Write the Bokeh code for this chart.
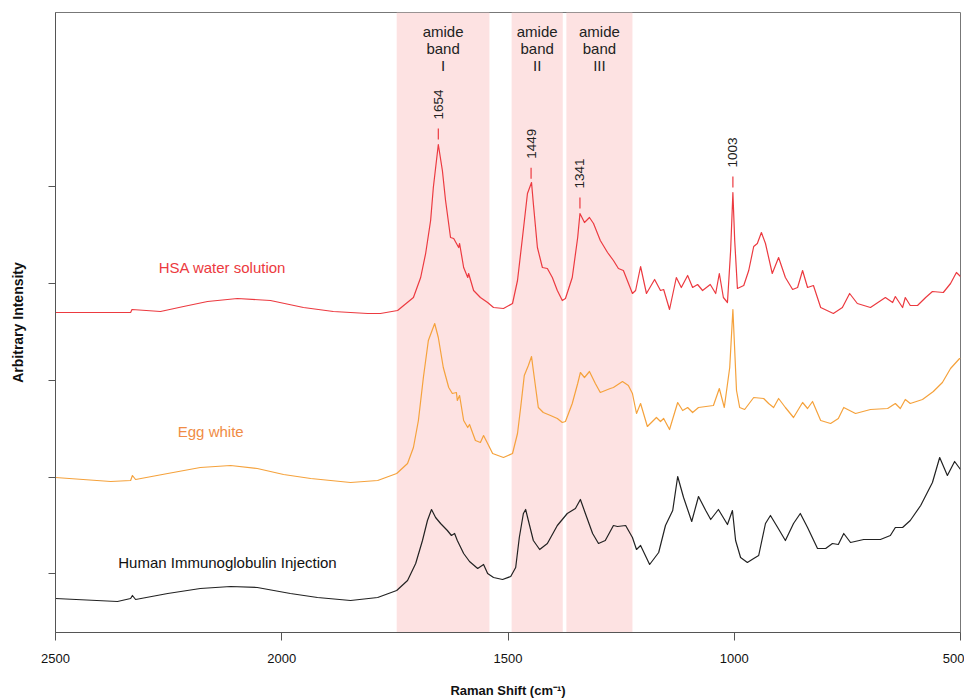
import numpy as np
from bokeh.plotting import figure
from bokeh.models import Range1d, FixedTicker, BoxAnnotation, CustomLabelingPolicy
from bokeh.core.properties import value
from bokeh.embed import file_html
from bokeh.resources import INLINE

# ---------------- data ----------------
hsa_wn = [2500, 2401, 2334, 2331, 2268, 2217, 2164, 2098, 2025, 1952, 1886, 1810, 1782, 1744,
          1709, 1693, 1682, 1671, 1665, 1654, 1645, 1638, 1627, 1620, 1609, 1607, 1598, 1589,
          1587, 1576, 1561, 1545, 1532, 1510, 1490, 1479, 1468, 1457, 1448, 1444, 1435, 1424,
          1413, 1402, 1391, 1380, 1373, 1358, 1346, 1341, 1331, 1320, 1311, 1296, 1280, 1267,
          1256, 1245, 1225, 1218, 1207, 1194, 1176, 1163, 1156, 1143, 1128, 1117, 1103, 1092,
          1081, 1070, 1053, 1041, 1033, 1024, 1015, 1008, 1003, 999, 993, 979, 968, 957, 949,
          940, 931, 916, 902, 887, 871, 860, 849, 838, 825, 809, 781, 761, 745, 728, 699, 666,
          650, 644, 628, 622, 611, 595, 577, 562, 538, 522, 509, 500]
hsa_int = [320, 320, 320, 323, 321, 326, 331, 334, 332, 325, 321, 319, 319, 322,
           335, 355, 379, 412, 445, 488, 462, 432, 395, 394, 385, 389, 365, 355,
           359, 342, 335, 330, 325, 324, 329, 352, 395, 439, 450, 429, 385, 365,
           364, 355, 342, 332, 334, 355, 395, 419, 410, 415, 409, 392, 380, 372,
           364, 362, 339, 342, 366, 339, 353, 342, 343, 323, 355, 345, 357, 345,
           348, 342, 348, 339, 359, 335, 330, 382, 440, 392, 344, 347, 362, 386, 389,
           400, 389, 359, 375, 355, 343, 345, 362, 345, 347, 325, 319, 325, 339, 329, 325, 335,
           330, 336, 325, 335, 327, 327, 335, 341, 340, 349, 360, 356]

egg_wn = [2500, 2378, 2334, 2330, 2323, 2252, 2180, 2113, 2054, 1996, 1936, 1848, 1788, 1746,
          1722, 1709, 1698, 1687, 1676, 1662, 1654, 1643, 1631, 1623, 1614, 1612, 1607, 1598,
          1589, 1585, 1572, 1561, 1554, 1545, 1534, 1510, 1490, 1479, 1472, 1464, 1455, 1448,
          1444, 1433, 1422, 1406, 1391, 1380, 1373, 1358, 1346, 1340, 1331, 1320, 1307, 1296,
          1274, 1267, 1247, 1234, 1225, 1216, 1207, 1192, 1172, 1163, 1156, 1143, 1125, 1114,
          1103, 1092, 1079, 1046, 1033, 1022, 1010, 1003, 995, 988, 977, 957, 935, 924, 913,
          902, 887, 869, 849, 838, 827, 809, 787, 770, 758, 732, 699, 661, 644, 633, 622, 611,
          584, 560, 540, 522, 502, 500]
egg_int = [155, 151, 152, 157, 153, 159, 165, 167, 164, 158, 154, 150, 152, 159,
           169, 185, 212, 255, 292, 309, 295, 265, 245, 239, 240, 232, 237, 212,
           205, 208, 192, 190, 197, 189, 179, 175, 179, 199, 225, 257, 267, 276,
           262, 225, 220, 217, 214, 210, 211, 229, 249, 260, 255, 261, 249, 240,
           244, 245, 251, 247, 239, 219, 229, 206, 215, 211, 214, 203, 230, 222,
           225, 220, 225, 227, 244, 225, 265, 323, 242, 225, 223, 235, 234, 229, 225,
           234, 225, 215, 230, 224, 231, 212, 209, 214, 225, 219, 223, 224, 229, 224, 233, 229,
           233, 241, 250, 264, 274, 274]

hig_wn = [2500, 2363, 2334, 2330, 2323, 2252, 2180, 2113, 2054, 1981, 1921, 1848, 1788, 1746,
          1722, 1704, 1689, 1678, 1669, 1660, 1649, 1634, 1625, 1618, 1612, 1598, 1585, 1567,
          1554, 1545, 1532, 1512, 1494, 1483, 1475, 1466, 1461, 1455, 1444, 1430, 1413, 1391,
          1369, 1351, 1340, 1329, 1313, 1300, 1285, 1267, 1258, 1240, 1225, 1216, 1207, 1187,
          1167, 1152, 1136, 1125, 1112, 1094, 1079, 1063, 1052, 1035, 1015, 1004, 997, 986,
          971, 957, 946, 931, 920, 904, 887, 869, 854, 838, 816, 798, 783, 770, 758, 743, 714,
          677, 655, 644, 628, 611, 588, 562, 546, 529, 513, 500]
hig_int = [34, 31, 34, 37, 33, 39, 44, 46, 45, 39, 35, 32, 35, 42,
           52, 69, 92, 112, 123, 115, 109, 102, 97, 99, 92, 79, 71, 64,
           68, 59, 55, 53, 56, 65, 95, 119, 123, 112, 92, 83, 89, 107,
           119, 124, 133, 119, 99, 89, 92, 107, 106, 107, 95, 83, 87, 68,
           80, 107, 122, 156, 135, 111, 136, 122, 113, 123, 108, 122, 92, 75,
           70, 74, 77, 109, 117, 105, 92, 109, 119, 105, 84, 84, 89, 88, 99, 90, 93,
           93, 97, 105, 105, 112, 127, 150, 175, 157, 171, 163]

band_left = [1746, 1492, 1371]
band_right = [1541, 1379, 1225]
band_names = ["I", "II", "III"]

peak_wn = [1654, 1449, 1341, 1003]
peak_text = ["1654", "1449", "1341", "1003"]

series_names = ["HSA water solution", "Egg white", "Human Immunoglobulin Injection"]
label_wn = [2131, 2157, 2120]
label_int = [365, 201, 70]

x_ticks = [2500, 2000, 1500, 1000, 500]
y_ticks = [59, 155, 252, 349, 446]

RED = "#EC3A40"
ORANGE = "#F5A23C"
BLACK = "#222222"
BAND = "#FDE2E2"
FONT = "Liberation Sans"

# ---------------- figure ----------------
p = figure(width=964, height=700, output_backend="svg", toolbar_location=None,
           x_range=Range1d(2500, 500), y_range=Range1d(0, 620),
           min_border_left=55, min_border_right=4, min_border_top=12, min_border_bottom=68)
p.grid.visible = False
p.outline_line_color = "#777777"
p.outline_line_width = 1
p.background_fill_color = "white"
p.border_fill_color = "white"

for l, r in zip(band_left, band_right):
    p.add_layout(BoxAnnotation(left=r, right=l, fill_color=BAND, fill_alpha=1.0,
                               line_color=None, level="underlay"))

p.line(hsa_wn, hsa_int, line_color=RED, line_width=1.2, line_join="round")
p.line(egg_wn, egg_int, line_color=ORANGE, line_width=1.2, line_join="round")
p.line(hig_wn, hig_int, line_color=BLACK, line_width=1.2, line_join="round")

# band labels
centers = [(l + r) / 2 for l, r in zip(band_left, band_right)]
for row, y in [(0, 601), (1, 584), (2, 567)]:
    txt = ["amide"] * 3 if row == 0 else (["band"] * 3 if row == 1 else band_names)
    p.text(x=centers, y=[y] * 3, text=txt, text_font=value(FONT), text_font_size="15px",
           text_align="center", text_baseline="middle", text_color="#222222")

# peak markers from HSA curve
order = np.argsort(hsa_wn)
peak_h = np.interp(peak_wn, np.array(hsa_wn)[order], np.array(hsa_int)[order])
p.segment(x0=peak_wn, y0=peak_h + 5, x1=peak_wn, y1=peak_h + 16, line_color=RED, line_width=1.2)
p.text(x=peak_wn, y=peak_h + 40, text=peak_text, angle=np.pi / 2, text_font=value(FONT),
       text_font_size="13.5px", text_align="center", text_baseline="middle", text_color="#222222")

# series labels
p.text(x=label_wn, y=label_int, text=series_names, text_font=value(FONT), text_font_size="15px",
       text_align="center", text_baseline="middle", text_color=[RED, "#F08C45", "#111111"])

# axes
xa = p.xaxis[0]
xa.ticker = FixedTicker(ticks=x_ticks)
xa.major_tick_out = 8
xa.major_tick_in = 0
xa.minor_tick_out = 0
xa.minor_tick_in = 0
xa.axis_line_color = "#555555"
xa.major_tick_line_color = "#555555"
xa.major_label_text_font = FONT
xa.major_label_text_font_size = "13px"
xa.major_label_text_color = "#111111"
xa.major_label_standoff = 13
xa.axis_label = "Raman Shift (cm\u207b\u00b9)"
xa.axis_label_text_font = FONT
xa.axis_label_text_font_size = "13px"
xa.axis_label_text_font_style = "bold"
xa.axis_label_text_color = "#111111"
xa.axis_label_standoff = 17

ya = p.yaxis[0]
ya.ticker = FixedTicker(ticks=y_ticks)
ya.major_tick_out = 7
ya.major_tick_in = 0
ya.minor_tick_out = 0
ya.minor_tick_in = 0
ya.axis_line_color = "#555555"
ya.major_tick_line_color = "#555555"
ya.major_label_policy = CustomLabelingPolicy(code="return []")
ya.major_label_text_font_size = "0px"
ya.major_label_standoff = 0
ya.axis_label = "Arbitrary Intensity"
ya.axis_label_text_font = FONT
ya.axis_label_text_font_size = "14px"
ya.axis_label_text_font_style = "bold"
ya.axis_label_text_color = "#111111"
ya.axis_label_standoff = 23

open("out.html", "w").write(file_html(p, INLINE))
